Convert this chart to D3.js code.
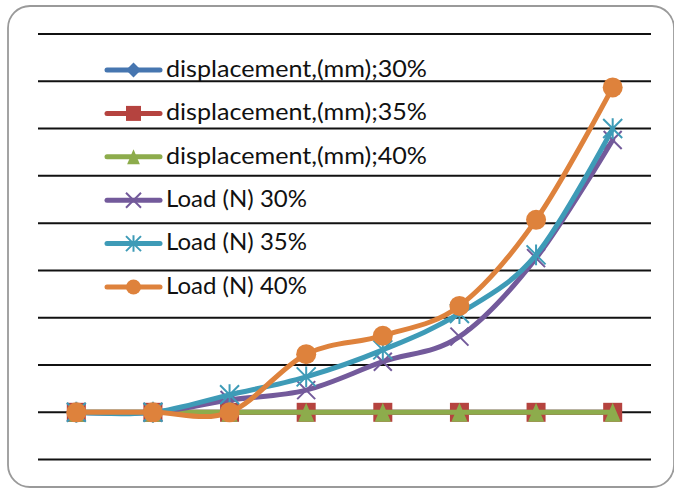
<!DOCTYPE html>
<html><head><meta charset="utf-8">
<script src="https://cdn.jsdelivr.net/npm/d3@7"></script>
<style>html,body{margin:0;padding:0;background:#fff;}svg{display:block;}</style>
</head><body>
<svg id="c" width="674" height="489"></svg>
<script>
const categories = [1, 2, 3, 4, 5, 6, 7, 8];
const yTicks = [-1, 0, 1, 2, 3, 4, 5, 6, 7, 8];
const seriesNames = ["displacement,(mm);30%", "displacement,(mm);35%", "displacement,(mm);40%", "Load (N) 30%", "Load (N) 35%", "Load (N) 40%"];
const disp30 = [0, 0, 0, 0, 0, 0, 0, 0];
const disp35 = [0, 0, 0, 0, 0, 0, 0, 0];
const disp40 = [0, 0, 0, 0, 0, 0, 0, 0];
const load30 = [0, 0, 0.26, 0.47, 1.07, 1.6, 3.26, 5.76];
const load35 = [0, 0, 0.37, 0.75, 1.32, 2.09, 3.33, 6.0];
const load40 = [0, 0, 0, 1.23, 1.62, 2.25, 4.07, 6.87];
const colors = ["#4676B0", "#B5433F", "#8DAC4C", "#735A9B", "#3E9BB7", "#DE823C"];
const markers = ["diamond", "square", "triangle", "x", "asterisk", "circle"];
const smooth = [false, false, false, true, true, true];
const values = [disp30, disp35, disp40, load30, load35, load40];

const svg = d3.select("#c");
svg.append("rect").attr("x", 8).attr("y", 6).attr("width", 666).attr("height", 481)
  .attr("rx", 22).attr("fill", "#fff").attr("stroke", "#9a9a9a").attr("stroke-width", 1.8);

const x = d3.scaleBand().domain(categories).range([38, 651]);
const y = d3.scaleLinear().domain([-1, 8]).range([459.6, 34]);
const cx = d => x(d) + x.bandwidth() / 2;

// gridlines
svg.append("g").selectAll("line").data(yTicks).join("line")
  .attr("x1", 38).attr("x2", 651).attr("y1", d => y(d)).attr("y2", d => y(d))
  .attr("stroke", "#111").attr("stroke-width", 2);

function drawMarker(g, type, color, size) {
  const s = size / 2;
  if (type === "diamond") {
    g.append("path").attr("d", `M0,${-s}L${s},0L0,${s}L${-s},0Z`).attr("fill", color);
  } else if (type === "square") {
    g.append("rect").attr("x", -s).attr("y", -s).attr("width", size).attr("height", size).attr("fill", color);
  } else if (type === "triangle") {
    g.append("path").attr("d", `M0,${-s}L${s*0.85},${s}L${-s*0.85},${s}Z`).attr("fill", color);
  } else if (type === "x") {
    g.append("path").attr("d", `M${-s},${-s}L${s},${s}M${s},${-s}L${-s},${s}`).attr("stroke", color).attr("stroke-width", 2);
  } else if (type === "asterisk") {
    g.append("path").attr("d", `M${-s},${-s}L${s},${s}M${s},${-s}L${-s},${s}M0,${-s*1.1}L0,${s*1.1}`).attr("stroke", color).attr("stroke-width", 2);
  } else if (type === "circle") {
    g.append("circle").attr("r", s).attr("fill", color);
  }
}

const markerSize = [18, 19, 19, 18, 19, 20];

values.forEach((vals, i) => {
  const line = d3.line().x((d, j) => cx(categories[j])).y(d => y(d))
    .curve(smooth[i] ? d3.curveCardinal.tension(0) : d3.curveLinear);
  const g = svg.append("g");
  g.append("path").attr("d", line(vals)).attr("fill", "none").attr("stroke", colors[i])
    .attr("stroke-width", 5).attr("stroke-linejoin", "round").attr("stroke-linecap", "round");
  vals.forEach((v, j) => {
    const mg = g.append("g").attr("transform", `translate(${cx(categories[j])},${y(v)})`);
    drawMarker(mg, markers[i], colors[i], markerSize[i]);
  });
});

// legend
const legendWidths = [261, 261, 261, 141, 141, 141];
const lg = svg.append("g");
seriesNames.forEach((name, i) => {
  const cy = 70 + 43.4 * i;
  const row = lg.append("g");
  row.append("rect").attr("x", 0).attr("y", 0).attr("width", 0);
  row.append("line").attr("x1", 107).attr("x2", 160).attr("y1", cy).attr("y2", cy)
    .attr("stroke", colors[i]).attr("stroke-width", 5).attr("stroke-linecap", "round");
  const mg = row.append("g").attr("transform", `translate(133.5,${cy})`);
  drawMarker(mg, markers[i], colors[i], 15);
  row.append("text").attr("x", 166).attr("y", cy + 6.8).text(name)
    .attr("font-family", "Lato, 'Open Sans', sans-serif").attr("font-size", 24)
    .attr("fill", "#111").attr("textLength", legendWidths[i]).attr("lengthAdjust", "spacingAndGlyphs");
});
</script>
</body></html>
